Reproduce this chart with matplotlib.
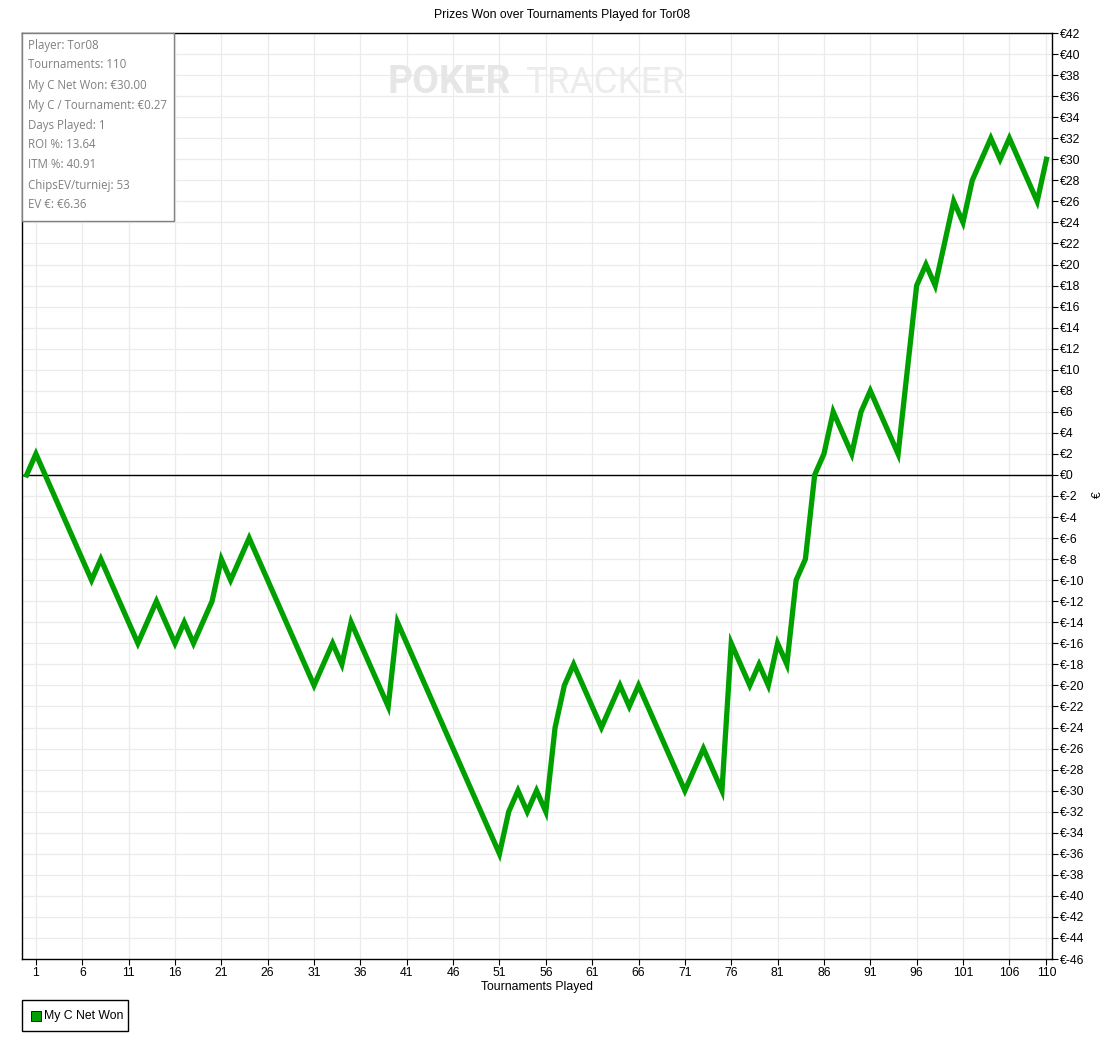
import matplotlib
matplotlib.use("Agg")
import matplotlib.pyplot as plt
from matplotlib.patches import Rectangle
import numpy as np

plt.rcParams['font.family'] = ['Liberation Sans', 'DejaVu Sans']

tournaments = list(range(0, 111))
net_won = [0, 2, 0, -2, -4, -6, -8, -10, -8, -10,
           -12, -14, -16, -14, -12, -14, -16, -14, -16, -14,
           -12, -8, -10, -8, -6, -8, -10, -12, -14, -16,
           -18, -20, -18, -16, -18, -14, -16, -18, -20, -22,
           -14, -16, -18, -20, -22, -24, -26, -28, -30, -32,
           -34, -36, -32, -30, -32, -30, -32, -24, -20, -18,
           -20, -22, -24, -22, -20, -22, -20, -22, -24, -26,
           -28, -30, -28, -26, -28, -30, -16, -18, -20, -18,
           -20, -16, -18, -10, -8, 0, 2, 6, 4, 2,
           6, 8, 6, 4, 2, 10, 18, 20, 18, 22,
           26, 24, 28, 30, 32, 30, 32, 30, 28, 26,
           30]
x_ticks = [1, 6, 11, 16, 21, 26, 31, 36, 41, 46, 51, 56, 61, 66, 71, 76,
           81, 86, 91, 96, 101, 106, 110]
y_ticks = list(range(-46, 43, 2))
info_lines = ["Player: Tor08", "Tournaments: 110", "My C Net Won: €30.00",
              "My C / Tournament: €0.27", "Days Played: 1", "ROI %: 13.64",
              "ITM %: 40.91", "ChipsEV/turniej: 53", "EV €: €6.36"]
title = "Prizes Won over Tournaments Played for Tor08"
series_name = "My C Net Won"

W, H = 1112, 1040
fig = plt.figure(figsize=(W / 100, H / 100), dpi=100)
fig.patch.set_facecolor('white')

def fx(px):
    return px / W

def fy(py):
    return 1 - py / H

ax = fig.add_axes([fx(22), fy(959), fx(1052) - fx(22), fy(33) - fy(959)])
ax.set_xlim(-0.5, 110.6)
ax.set_ylim(-46, 42)

ax.grid(True, color='#ebebeb', linewidth=0.9)
ax.set_axisbelow(True)
ax.set_xticks(x_ticks)
ax.set_xticklabels([str(t) for t in x_ticks], fontsize=8.8)
ax.set_yticks(y_ticks)
ax.set_yticklabels([f"€{v}" for v in y_ticks], fontsize=8.8)
ax.yaxis.tick_right()
ax.tick_params(axis='both', length=4, width=0.8, color='black', pad=2)
for s in ax.spines.values():
    s.set_color('black')
    s.set_linewidth(1.0)

ax.axhline(0, color='black', linewidth=1.0, zorder=2)
ax.plot(tournaments, net_won, color='#00a000', linewidth=3.8,
        solid_joinstyle='miter', zorder=3)

ax.set_xlabel("Tournaments Played", fontsize=8.8, labelpad=1)

# title
fig.text(fx(562), fy(15), title, ha='center', va='center', fontsize=8.8)

# y axis label
fig.text(fx(1098), fy(495), "€", ha='center', va='center', rotation=90,
         fontsize=8.8)

# watermark
fig.text(fx(387), fy(83), "POKER", ha='left', va='center', fontsize=28,
         fontweight='bold', color='#e6e6e6', zorder=0,
         family=['Roboto', 'DejaVu Sans'])
fig.text(fx(525), fy(83), "TRACKER", ha='left', va='center', fontsize=26.5,
         color='#ececec', zorder=0, family=['Roboto', 'DejaVu Sans'])

# info box
box = Rectangle((fx(22), fy(221)), fx(174) - fx(22), fy(33) - fy(221),
                transform=fig.transFigure, facecolor='white',
                edgecolor='#808080', linewidth=1.0, zorder=5)
fig.add_artist(box)
for i, line in enumerate(info_lines):
    fig.text(fx(28), fy(45 + 20 * i), line, ha='left', va='center',
             fontsize=8.3, color='#808080', family=['Open Sans', 'DejaVu Sans'],
             zorder=6)

# legend box
lbox = Rectangle((fx(22), fy(1031)), fx(128) - fx(22), fy(1000) - fy(1031),
                 transform=fig.transFigure, facecolor='white',
                 edgecolor='black', linewidth=1.0)
fig.add_artist(lbox)
sq = Rectangle((fx(31), fy(1021)), fx(10), fy(0) - fy(10),
               transform=fig.transFigure, facecolor='#00a000',
               edgecolor='black', linewidth=0.6)
fig.add_artist(sq)
fig.text(fx(44), fy(1016), series_name, ha='left', va='center', fontsize=8.8)

fig.savefig("out.png", dpi=100, facecolor='white')
